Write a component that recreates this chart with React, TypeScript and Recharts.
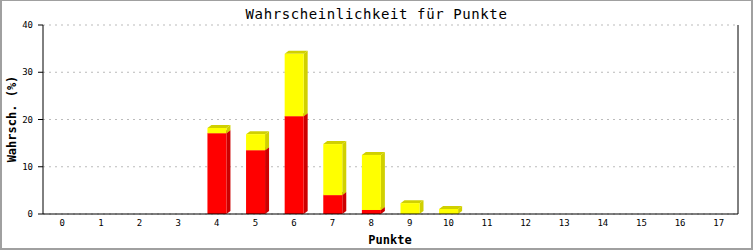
import { Bar, BarChart, CartesianGrid, XAxis, YAxis } from "recharts";

const punkte = ["0", "1", "2", "3", "4", "5", "6", "7", "8", "9", "10", "11", "12", "13", "14", "15", "16", "17"];
const rotWerte = [0, 0, 0, 0, 17.1, 13.5, 20.7, 4.0, 0.85, 0, 0, 0, 0, 0, 0, 0, 0, 0];
const gelbWerte = [0, 0, 0, 0, 1.1, 3.4, 13.2, 10.8, 11.65, 2.3, 1.06, 0, 0, 0, 0, 0, 0, 0];
const yTicks = [0, 10, 20, 30, 40];

const data = punkte.map((p, i) => ({ punkt: p, rot: rotWerte[i], gelb: gelbWerte[i] }));

const FONT = "'DejaVu Sans Mono', 'Liberation Mono', monospace";
const DX = 4;
const DY = 3;

// 3D-Balken: Vorderseite, rechte Seite und Deckel
function Bar3D(props: any) {
  const { x, y, width, height, fill, side } = props;
  if (!height || height <= 0) return null;
  const r = x + width;
  const b = y + height;
  return (
    <g>
      <polygon
        points={`${r},${y} ${r + DX},${y - DY} ${r + DX},${b - DY} ${r},${b}`}
        fill={side}
      />
      <polygon
        points={`${x},${y} ${x + DX},${y - DY} ${r + DX},${y - DY} ${r},${y}`}
        fill={side}
      />
      <rect x={x} y={y} width={width} height={height} fill={fill} />
    </g>
  );
}

export default function App() {
  return (
    <div
      style={{
        position: "absolute",
        left: 0,
        top: 0,
        width: 753,
        height: 250,
        background: "#fff",
        fontFamily: FONT,
      }}
    >
      <BarChart
        width={753}
        height={250}
        data={data}
        margin={{ top: 25, right: 0, bottom: 0, left: 0 }}
        barSize={19}
      >
        <CartesianGrid vertical={false} stroke="#bbb" strokeDasharray="2 4" />
        <XAxis
          dataKey="punkt"
          height={36}
          axisLine={{ stroke: "#000" }}
          tickLine={false}
          tickSize={6}
          tickMargin={0}
          interval={0}
          tick={{ fontSize: 9, fill: "#000", fontFamily: FONT }}
        />
        <YAxis
          width={43}
          domain={[0, 40]}
          ticks={yTicks}
          axisLine={{ stroke: "#000" }}
          tickLine={{ stroke: "#000" }}
          tickSize={5}
          tickMargin={5}
          tick={{ fontSize: 9, fill: "#000", fontFamily: FONT }}
        />
        <YAxis
          yAxisId="rechts"
          orientation="right"
          width={15}
          domain={[0, 40]}
          tick={false}
          tickLine={false}
          axisLine={{ stroke: "#000" }}
        />
        <Bar
          dataKey="rot"
          stackId="a"
          fill="#ff0000"
          shape={(p: any) => <Bar3D {...p} fill="#ff0000" side="#cc0000" />}
          isAnimationActive={false}
        />
        <Bar
          dataKey="gelb"
          stackId="a"
          fill="#ffff00"
          shape={(p: any) => <Bar3D {...p} fill="#ffff00" side="#d0d000" />}
          isAnimationActive={false}
        />
      </BarChart>
      <div
        style={{
          position: "absolute",
          left: 0,
          width: 753,
          top: 6,
          textAlign: "center",
          fontSize: 14,
          lineHeight: "16px",
          letterSpacing: 0.6,
        }}
      >
        Wahrscheinlichkeit für Punkte
      </div>
      <div
        style={{
          position: "absolute",
          left: 390,
          top: 240,
          transform: "translate(-50%, -50%)",
          fontSize: 12,
          fontWeight: "bold",
          whiteSpace: "nowrap",
        }}
      >
        Punkte
      </div>
      <div
        style={{
          position: "absolute",
          left: 12,
          top: 119,
          transform: "translate(-50%, -50%) rotate(-90deg)",
          fontSize: 12,
          fontWeight: "bold",
          whiteSpace: "nowrap",
        }}
      >
        Wahrsch. (%)
      </div>
      <div
        style={{
          position: "absolute",
          left: 0,
          top: 0,
          width: 753,
          height: 250,
          boxSizing: "border-box",
          border: "2px solid #a0a0a0",
          borderTopWidth: 1,
          pointerEvents: "none",
        }}
      />
    </div>
  );
}
